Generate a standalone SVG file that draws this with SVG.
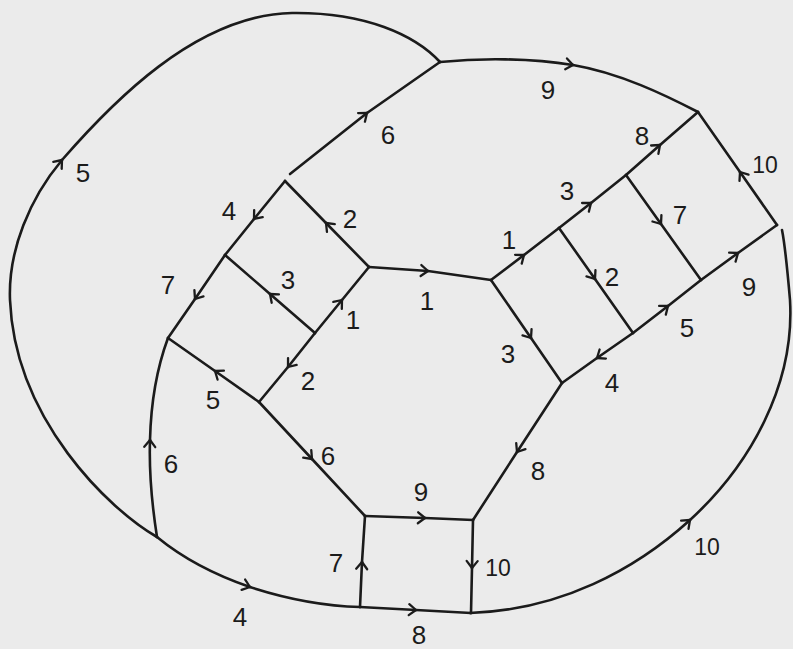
<svg xmlns="http://www.w3.org/2000/svg" width="793" height="649" viewBox="0 0 793 649">
<defs>
<style>
.e{fill:none;stroke:#1b1b1b;stroke-width:2.6;stroke-linecap:round;stroke-linejoin:round}
.h{marker-end:url(#arr)}
.t{font-family:"Liberation Sans",Arial,sans-serif;font-size:26px;fill:#1b1b1b;text-anchor:middle}
.s{font-size:23px}
.n{fill:#1b1b1b}
</style>
<marker id="arr" markerUnits="userSpaceOnUse" markerWidth="20" markerHeight="20" viewBox="-10 -10 20 20" refX="0" refY="0" orient="auto" overflow="visible">
<path d="M-7,-5.5 L0,0 L-7,5.5" fill="none" stroke="#1b1b1b" stroke-width="2.3" stroke-linecap="round" stroke-linejoin="round"/>
</marker>
</defs>
<rect x="0" y="0" width="793" height="649" fill="#ebebeb"/>
<g id="connectors">
<g id="e_loop5"><path class="e h" d="M157,537 C110,510 15,420 10,300 C8,250 30,198 62,160"/><path class="e" d="M62,160 C110,105 195,15 292,13 C365,12 415,35 440,62"/><text class="t" x="83" y="182">5</text></g>
<g id="e_top6"><path class="e h" d="M290,174 L367,113"/><path class="e" d="M367,113 L440,62"/><text class="t" x="388" y="144">6</text></g>
<g id="e_top9"><path class="e h" d="M440,62 C480,58 530,58 573,65"/><path class="e" d="M573,65 C620,73 665,95 698,112"/><text class="t" x="548" y="99">9</text></g>
<g id="e_r10"><path class="e h" d="M777,225 L740,172"/><path class="e" d="M740,172 L698,112"/><text class="t s" x="765" y="173">10</text></g>
<g id="e_HI8"><path class="e h" d="M626,175 L660,145"/><path class="e" d="M660,145 L698,112"/><text class="t" x="642" y="145">8</text></g>
<g id="e_GH3"><path class="e h" d="M559,228 L591,203"/><path class="e" d="M591,203 L626,175"/><text class="t" x="567" y="200">3</text></g>
<g id="e_BG1"><path class="e h" d="M491,280 L524,255"/><path class="e" d="M524,255 L559,228"/><text class="t" x="509" y="249">1</text></g>
<g id="e_HK7"><path class="e h" d="M626,175 L661,224"/><path class="e" d="M661,224 L701,280"/><text class="t" x="680" y="224">7</text></g>
<g id="e_GL2"><path class="e h" d="M559,228 L595,279"/><path class="e" d="M595,279 L633,333"/><text class="t" x="612" y="286">2</text></g>
<g id="e_KJ9"><path class="e h" d="M701,280 L738,253"/><path class="e" d="M738,253 L777,225"/><text class="t" x="749" y="296">9</text></g>
<g id="e_LK5"><path class="e h" d="M633,333 L668,306"/><path class="e" d="M668,306 L701,280"/><text class="t" x="687" y="337">5</text></g>
<g id="e_LM4"><path class="e h" d="M633,333 L597,358"/><path class="e" d="M597,358 L562,383"/><text class="t" x="612" y="392">4</text></g>
<g id="e_BM3"><path class="e h" d="M491,280 L531,338"/><path class="e" d="M531,338 L562,383"/><text class="t" x="508" y="363">3</text></g>
<g id="e_MS8"><path class="e h" d="M562,383 L517,452"/><path class="e" d="M517,452 L473,520"/><text class="t" x="538" y="480">8</text></g>
<g id="e_R10"><path class="e h" d="M470,613 C560,610 635,570 690,520"/><path class="e" d="M690,520 C750,465 795,385 790,300 C787,265 785,245 782,230"/><text class="t s" x="707" y="555">10</text></g>
<g id="e_sq10"><path class="e h" d="M473,520 L472,568"/><path class="e" d="M472,568 L471,613"/><text class="t s" x="498" y="576">10</text></g>
<g id="e_b8"><path class="e h" d="M360,607 L416,610"/><path class="e" d="M416,610 L471,613"/><text class="t" x="419" y="644">8</text></g>
<g id="e_sq9"><path class="e h" d="M365,516 L425,518"/><path class="e" d="M425,518 L473,520"/><text class="t" x="421" y="501">9</text></g>
<g id="e_sq7"><path class="e h" d="M360,607 L362,562"/><path class="e" d="M362,562 L365,516"/><text class="t" x="336" y="572">7</text></g>
<g id="e_b4"><path class="e h" d="M157,537 C185,560 215,575 250,587"/><path class="e" d="M250,587 C290,600 325,606 360,607"/><text class="t" x="240" y="626">4</text></g>
<g id="e_l6"><path class="e h" d="M157,537 C152,505 149,470 150,440"/><path class="e" d="M150,440 C151,400 158,365 168,338"/><text class="t" x="171" y="473">6</text></g>
<g id="e_DS6"><path class="e h" d="M259,402 L312,459"/><path class="e" d="M312,459 L365,516"/><text class="t" x="328" y="465">6</text></g>
<g id="e_DF5"><path class="e h" d="M259,402 L215,371"/><path class="e" d="M215,371 L168,338"/><text class="t" x="213" y="409">5</text></g>
<g id="e_CD2"><path class="e h" d="M315,333 L288,367"/><path class="e" d="M288,367 L259,402"/><text class="t" x="308" y="390">2</text></g>
<g id="e_CA1"><path class="e h" d="M315,333 L342,300"/><path class="e" d="M342,300 L369,267"/><text class="t" x="353" y="329">1</text></g>
<g id="e_CE3"><path class="e h" d="M315,333 L270,294"/><path class="e" d="M270,294 L225,255"/><text class="t" x="288" y="289">3</text></g>
<g id="e_AT2"><path class="e h" d="M369,267 L326,223"/><path class="e" d="M326,223 L285,181"/><text class="t" x="350" y="228">2</text></g>
<g id="e_TE4"><path class="e h" d="M285,181 L254,219"/><path class="e" d="M254,219 L225,255"/><text class="t" x="229" y="220">4</text></g>
<g id="e_EF7"><path class="e h" d="M225,255 L195,299"/><path class="e" d="M195,299 L168,338"/><text class="t" x="168" y="294">7</text></g>
<g id="e_AB1"><path class="e h" d="M369,267 L428,271"/><path class="e" d="M428,271 L491,280"/><text class="t" x="427" y="310">1</text></g>
</g>
<g id="nodes">
<g id="n_top"><circle class="n" cx="440" cy="62" r="1.2"/></g>
<g id="n_T"><circle class="n" cx="285" cy="181" r="1.2"/></g>
<g id="n_A"><circle class="n" cx="369" cy="267" r="1.2"/></g>
<g id="n_B"><circle class="n" cx="491" cy="280" r="1.2"/></g>
<g id="n_C"><circle class="n" cx="315" cy="333" r="1.2"/></g>
<g id="n_D"><circle class="n" cx="259" cy="402" r="1.2"/></g>
<g id="n_E"><circle class="n" cx="225" cy="255" r="1.2"/></g>
<g id="n_F"><circle class="n" cx="168" cy="338" r="1.2"/></g>
<g id="n_P"><circle class="n" cx="157" cy="537" r="1.2"/></g>
<g id="n_S1"><circle class="n" cx="365" cy="516" r="1.2"/></g>
<g id="n_S2"><circle class="n" cx="473" cy="520" r="1.2"/></g>
<g id="n_S3"><circle class="n" cx="360" cy="607" r="1.2"/></g>
<g id="n_S4"><circle class="n" cx="471" cy="613" r="1.2"/></g>
<g id="n_G"><circle class="n" cx="559" cy="228" r="1.2"/></g>
<g id="n_H"><circle class="n" cx="626" cy="175" r="1.2"/></g>
<g id="n_I"><circle class="n" cx="698" cy="112" r="1.2"/></g>
<g id="n_J"><circle class="n" cx="777" cy="225" r="1.2"/></g>
<g id="n_K"><circle class="n" cx="701" cy="280" r="1.2"/></g>
<g id="n_L"><circle class="n" cx="633" cy="333" r="1.2"/></g>
<g id="n_M"><circle class="n" cx="562" cy="383" r="1.2"/></g>
</g>
</svg>
